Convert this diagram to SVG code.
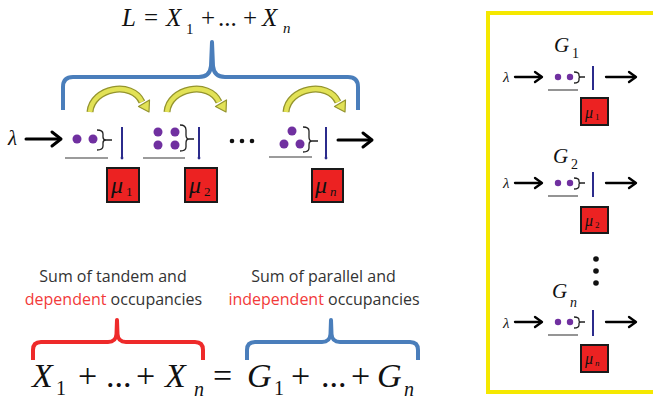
<svg xmlns="http://www.w3.org/2000/svg" width="653" height="401" viewBox="0 0 653 401">
<style>
.m{font-family:'Liberation Serif','DejaVu Serif','Noto Serif','Times New Roman',serif;fill:#111}
.i{font-style:italic}
.lbl{font-family:'Open Sans','Liberation Sans',sans-serif;font-size:16px;fill:#333;text-anchor:middle}
.red{fill:#f23a3a}
.dot{fill:#7030a0}
.ul{stroke:#7a7a7a;stroke-width:1.6;fill:none}
.br{stroke:#222;stroke-width:1.3;fill:none}
.vl{stroke:#2b2b8c;stroke-width:2;fill:none}
.box{fill:#ec2222;stroke:#1a1a1a;stroke-width:2}
.arr{stroke:#000;stroke-width:3;fill:none;stroke-linecap:round;stroke-linejoin:round}
.arrs{stroke:#000;stroke-width:2.3;fill:none;stroke-linecap:round;stroke-linejoin:round}
.brace{fill:none;stroke-width:4;stroke-linejoin:round;stroke-linecap:butt}
</style>
<defs>
<g id="yarrow">
<path d="M0,24 C2,0 42,-8 52,14" fill="none" stroke="#94942e" stroke-width="7"/>
<path d="M0,24 C2,0 42,-8 52,14" fill="none" stroke="#e2e256" stroke-width="4.4"/>
<polygon points="59,24 48.5,18.5 59.5,12" fill="#e2e256" stroke="#94942e" stroke-width="1.2" stroke-linejoin="round"/>
</g>
</defs>

<!-- top formula -->
<g id="formula-top" class="m" font-family="Liberation Serif, DejaVu Serif, serif" font-size="25">
<text x="122" y="26" class="i">L</text>
<text x="144" y="26">=</text>
<text x="166" y="26" class="i">X</text>
<text x="186" y="34" font-size="15">1</text>
<text x="201" y="26">+</text>
<text x="218" y="26">...</text>
<text x="243" y="26">+</text>
<text x="262" y="26" class="i">X</text>
<text x="283" y="33" font-size="15" class="i">n</text>
</g>

<!-- top brace -->
<g id="brace-top">
<path class="brace" stroke="#4a7ebb" d="M63,110 L63,87 Q63,77 73,77 L199,77 Q210,77 211,66 L212,42 L213,66 Q214,77 225,77 L348,77 Q358,77 358,87 L358,110"/>
</g>

<!-- tandem chain -->
<g id="lambda-in">
<text x="8" y="145" class="m i" font-family="Liberation Serif, DejaVu Serif, serif" font-size="21">λ</text>
<line class="arr" x1="26" y1="139" x2="60" y2="139"/>
<polyline class="arr" points="52,132 61,139 52,146"/>
</g>

<g id="queue1">
<circle class="dot" cx="77" cy="139" r="4.5"/>
<circle class="dot" cx="93" cy="139" r="4.5"/>
<path class="br" d="M97,130 Q103,130 103,134 L103,137 Q103,140 106,140 Q103,140 103,143 L103,146 Q103,150 97,150 M106,140 L112,140"/>
<line class="ul" x1="65" y1="158" x2="108" y2="158"/>
<line class="vl" x1="122" y1="127" x2="122" y2="157"/>
<circle cx="122" cy="158" r="1.4" fill="#2b2b8c"/>
<rect class="box" x="107" y="168" width="32" height="34"/>
<text x="111" y="193" class="m i" font-family="Liberation Serif, DejaVu Serif, serif" font-size="24">μ</text>
<text x="126" y="196" class="m" font-family="Liberation Serif, DejaVu Serif, serif" font-size="13">1</text>
</g>

<g id="queue2">
<circle class="dot" cx="158" cy="132" r="4.5"/>
<circle class="dot" cx="175" cy="132" r="4.5"/>
<circle class="dot" cx="158" cy="145" r="4.5"/>
<circle class="dot" cx="175" cy="145" r="4.5"/>
<path class="br" d="M180,125 Q186,125 186,130 L186,135 Q186,139 189,139 Q186,139 186,143 L186,147 Q186,151 180,151 M189,139 L194,139"/>
<line class="ul" x1="143" y1="158" x2="185" y2="158"/>
<line class="vl" x1="199" y1="127" x2="199" y2="157"/>
<circle cx="199" cy="158" r="1.4" fill="#2b2b8c"/>
<rect class="box" x="185" y="168" width="32" height="34"/>
<text x="189" y="193" class="m i" font-family="Liberation Serif, DejaVu Serif, serif" font-size="24">μ</text>
<text x="204" y="196" class="m" font-family="Liberation Serif, DejaVu Serif, serif" font-size="13">2</text>
</g>

<g id="ellipsis">
<circle cx="232" cy="141" r="2.3" fill="#111"/>
<circle cx="242" cy="141" r="2.3" fill="#111"/>
<circle cx="252" cy="141" r="2.3" fill="#111"/>
</g>

<g id="queuen">
<circle class="dot" cx="292" cy="131" r="4.5"/>
<circle class="dot" cx="284" cy="144" r="4.5"/>
<circle class="dot" cx="300" cy="144" r="4.5"/>
<path class="br" d="M303,127 Q309,127 309,131 L309,137 Q309,141 312,141 Q309,141 309,145 L309,148 Q309,152 303,152 M312,141 L318,141"/>
<line class="ul" x1="269" y1="157" x2="312" y2="157"/>
<line class="vl" x1="326" y1="127" x2="326" y2="157"/>
<circle cx="326" cy="158" r="1.4" fill="#2b2b8c"/>
<rect class="box" x="312" y="169" width="31" height="33"/>
<text x="315" y="193" class="m i" font-family="Liberation Serif, DejaVu Serif, serif" font-size="24">μ</text>
<text x="330" y="196" class="m i" font-family="Liberation Serif, DejaVu Serif, serif" font-size="13">n</text>
</g>

<g id="out-arrow">
<line class="arr" x1="338" y1="140" x2="371" y2="140"/>
<polyline class="arr" points="363,133 372,140 363,147"/>
</g>

<g id="transfer-arrows">
<use href="#yarrow" x="90" y="88"/>
<use href="#yarrow" x="167" y="88"/>
<use href="#yarrow" x="286" y="88"/>
</g>

<!-- labels -->
<g id="label-tandem">
<text class="lbl" x="113" y="282">Sum of tandem and</text>
<text class="lbl" x="113.5" y="305"><tspan class="red">dependent</tspan> occupancies</text>
</g>
<g id="label-parallel">
<text class="lbl" x="323.5" y="282">Sum of parallel and</text>
<text class="lbl" x="324" y="305"><tspan class="red">independent</tspan> occupancies</text>
</g>

<g id="brace-red">
<path class="brace" stroke="#ee2a2a" d="M33,360 L33,350 Q33,342 41,342 L108,342 Q116,342 116.5,334 L117,320 L117.5,334 Q118,342 126,342 L195,342 Q203,342 203,350 L203,360"/>
</g>
<g id="brace-blue">
<path class="brace" stroke="#4a7ebb" d="M247,360 L247,350 Q247,342 255,342 L322,342 Q330,342 330.5,334 L331,320 L331.5,334 Q332,342 340,342 L410,342 Q418,342 418,350 L418,360"/>
</g>

<!-- bottom equation -->
<g id="formula-bottom" class="m" font-family="Liberation Serif, DejaVu Serif, serif" font-size="34">
<text x="32" y="387" class="i">X</text>
<text x="56" y="395" font-size="20">1</text>
<text x="78" y="387">+</text>
<text x="106" y="387">...</text>
<text x="136" y="387">+</text>
<text x="165" y="387" class="i">X</text>
<text x="194" y="396" font-size="20" class="i">n</text>
<text x="213" y="387">=</text>
<text x="247" y="387" class="i">G</text>
<text x="274" y="395" font-size="20">1</text>
<text x="291" y="387">+</text>
<text x="321" y="387">...</text>
<text x="351" y="387">+</text>
<text x="377" y="387" class="i">G</text>
<text x="404" y="396" font-size="20" class="i">n</text>
</g>

<!-- right panel -->
<rect id="panel" x="488" y="13" width="180" height="379" fill="none" stroke="#f5e800" stroke-width="4"/>

<g id="G1" class="m" font-family="Liberation Serif, DejaVu Serif, serif">
<text x="554" y="52" class="i" font-size="21">G</text>
<text x="572" y="58" font-size="14">1</text>
<text x="503" y="82" class="i" font-size="15">λ</text>
<line class="arrs" x1="515" y1="77" x2="541" y2="77"/>
<polyline class="arrs" points="535,72 542,77 535,82"/>
<circle class="dot" cx="558" cy="77" r="3.2"/>
<circle class="dot" cx="570" cy="77" r="3.2"/>
<path class="br" d="M574,72 Q579,72 579,75 L579,76 Q579,77 581,77 Q579,77 579,78 L579,80 Q579,83 574,83 M581,77 L585,77"/>
<line class="ul" x1="548" y1="90" x2="578" y2="90"/>
<line class="vl" x1="593" y1="66" x2="593" y2="90"/>
<line class="arrs" x1="606" y1="77" x2="635" y2="77"/>
<polyline class="arrs" points="629,72 636,77 629,82"/>
<rect class="box" x="581" y="98" width="27" height="27"/>
<text x="585" y="118" class="i" font-size="16">μ</text>
<text x="595" y="120" font-size="9">1</text>
</g>

<g id="G2" class="m" font-family="Liberation Serif, DejaVu Serif, serif">
<text x="553" y="163" class="i" font-size="21">G</text>
<text x="571" y="169" font-size="14">2</text>
<text x="503" y="188" class="i" font-size="15">λ</text>
<line class="arrs" x1="515" y1="183" x2="541" y2="183"/>
<polyline class="arrs" points="535,178 542,183 535,188"/>
<circle class="dot" cx="558" cy="183" r="3.2"/>
<circle class="dot" cx="570" cy="183" r="3.2"/>
<path class="br" d="M574,178 Q579,178 579,181 L579,182 Q579,183 581,183 Q579,183 579,184 L579,186 Q579,189 574,189 M581,183 L585,183"/>
<line class="ul" x1="548" y1="196" x2="578" y2="196"/>
<line class="vl" x1="593" y1="172" x2="593" y2="197"/>
<line class="arrs" x1="606" y1="183" x2="635" y2="183"/>
<polyline class="arrs" points="629,178 636,183 629,188"/>
<rect class="box" x="581" y="207" width="27" height="26"/>
<text x="585" y="226" class="i" font-size="16">μ</text>
<text x="595" y="228" font-size="9">2</text>
</g>

<g id="vdots">
<circle cx="596" cy="259" r="2.8" fill="#111"/>
<circle cx="596" cy="271" r="2.8" fill="#111"/>
<circle cx="596" cy="283" r="2.8" fill="#111"/>
</g>

<g id="Gn" class="m" font-family="Liberation Serif, DejaVu Serif, serif">
<text x="552" y="298" class="i" font-size="21">G</text>
<text x="570" y="307" class="i" font-size="14">n</text>
<text x="503" y="328" class="i" font-size="15">λ</text>
<line class="arrs" x1="515" y1="322" x2="541" y2="322"/>
<polyline class="arrs" points="535,317 542,322 535,327"/>
<circle class="dot" cx="558" cy="322" r="3.2"/>
<circle class="dot" cx="570" cy="322" r="3.2"/>
<path class="br" d="M574,317 Q579,317 579,320 L579,321 Q579,322 581,322 Q579,322 579,323 L579,325 Q579,328 574,328 M581,322 L585,322"/>
<line class="ul" x1="548" y1="335" x2="578" y2="335"/>
<line class="vl" x1="593" y1="310" x2="593" y2="336"/>
<line class="arrs" x1="606" y1="322" x2="635" y2="322"/>
<polyline class="arrs" points="629,317 636,322 629,327"/>
<rect class="box" x="581" y="345" width="27" height="27"/>
<text x="585" y="364" class="i" font-size="16">μ</text>
<text x="595" y="366" class="i" font-size="9">n</text>
</g>
</svg>
